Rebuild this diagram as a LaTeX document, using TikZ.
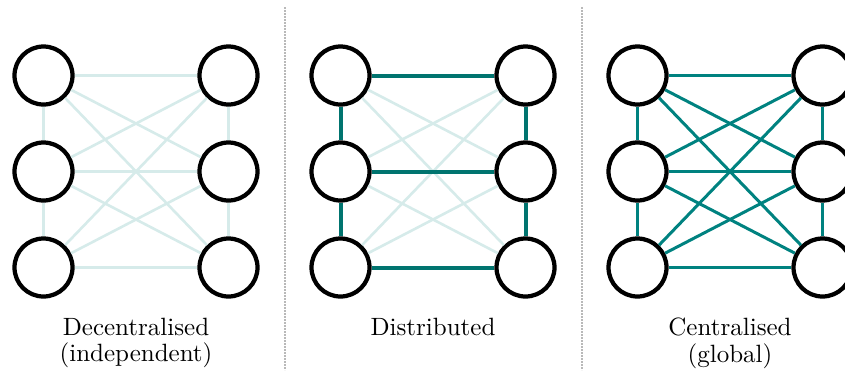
\documentclass[tikz,border=0pt]{standalone}
\usepackage{tikz}
\definecolor{faintteal}{RGB}{214,235,234}
\definecolor{darkteal}{RGB}{0,116,111}
\definecolor{midteal}{RGB}{0,130,128}
\definecolor{sepgray}{RGB}{185,185,185}
\begin{document}
\begin{tikzpicture}[x=0.4pt,y=-0.4pt,
  agent/.style={circle,draw=black,line width=1.7pt,fill=white,minimum size=23.2pt,inner sep=0pt},
  faintedge/.style={draw=faintteal,line width=1.05pt},
  strongedge/.style={draw=darkteal,line width=1.6pt},
  fulledge/.style={draw=midteal,line width=1.2pt},
  caption/.style={font=\fontsize{10}{10.6}\selectfont,align=center,anchor=north,inner sep=0pt},
  separator/.style={draw=sepgray,line width=1pt,dash pattern=on 0.8pt off 0.4pt}]
\useasboundingbox (0,0) rectangle (845,374);
% nodes
\foreach \p/\ox in {a/0,b/297,c/594}{
  \foreach \r/\yy in {1/75.5,2/171.5,3/267.5}{
    \node[agent] (\p L\r) at ({43.5+\ox},\yy) {};
    \node[agent] (\p R\r) at ({228.5+\ox},\yy) {};
  }
}
% panel a: all faint
\foreach \i in {1,2,3}{\foreach \j in {1,2,3}{\draw[faintedge] (aL\i) -- (aR\j);}}
\draw[faintedge] (aL1) -- (aL2); \draw[faintedge] (aL2) -- (aL3);
\draw[faintedge] (aR1) -- (aR2); \draw[faintedge] (aR2) -- (aR3);
% panel b: faint diagonals, strong grid
\foreach \i/\j in {1/2,1/3,2/1,2/3,3/1,3/2}{\draw[faintedge] (bL\i) -- (bR\j);}
\foreach \i in {1,2,3}{\draw[strongedge] (bL\i) -- (bR\i);}
\draw[strongedge] (bL1) -- (bL2); \draw[strongedge] (bL2) -- (bL3);
\draw[strongedge] (bR1) -- (bR2); \draw[strongedge] (bR2) -- (bR3);
% panel c: all full
\foreach \i in {1,2,3}{\foreach \j in {1,2,3}{\draw[fulledge] (cL\i) -- (cR\j);}}
\draw[fulledge] (cL1) -- (cL2); \draw[fulledge] (cL2) -- (cL3);
\draw[fulledge] (cR1) -- (cR2); \draw[fulledge] (cR2) -- (cR3);
% separators
\coordinate (s1t) at (285,7); \coordinate (s1b) at (285,370);
\coordinate (s2t) at (582,7); \coordinate (s2b) at (582,370);
\draw[separator] (s1t) -- (s1b);
\draw[separator] (s2t) -- (s2b);
% captions
\node[caption] (capa) at (136,317.6) {Decentralised\\(independent)};
\node[caption] (capb) at (433,317.6) {Distributed};
\node[caption] (capc) at (730,317.6) {Centralised\\(global)};
\end{tikzpicture}
\end{document}
